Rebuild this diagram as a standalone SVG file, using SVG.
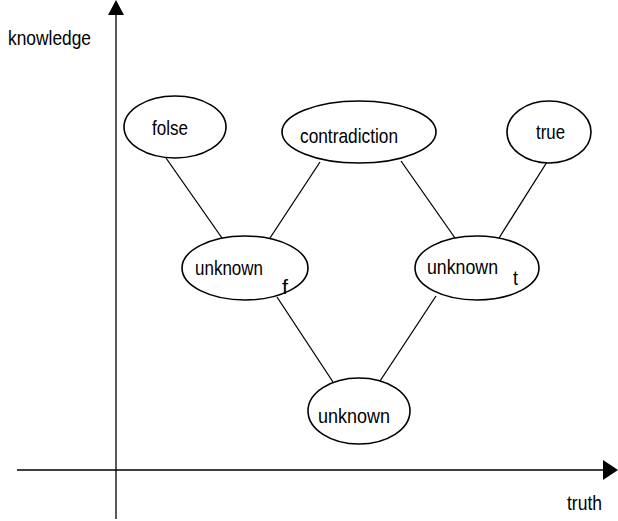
<svg xmlns="http://www.w3.org/2000/svg" width="618" height="521" viewBox="0 0 618 521">
<style>
.n{fill:#fff;stroke:#000;stroke-width:1.6}
.c{stroke:#000;stroke-width:1.3;fill:none}
text{font-family:"Liberation Sans",Arial,sans-serif;font-size:21px;fill:#000}
</style>
<rect width="618" height="521" fill="#fff"/>
<g id="axes">
<line class="c" x1="116" y1="519" x2="116" y2="14" stroke-width="1.6"/>
<polygon points="116,0 108,15 124,15" fill="#000"/>
<line class="c" x1="17" y1="470" x2="604" y2="470" stroke-width="1.6"/>
<polygon points="618,470 603,460 603,480" fill="#000"/>
<text x="8" y="45" textLength="83" lengthAdjust="spacingAndGlyphs">knowledge</text>
<text x="567" y="510" textLength="35" lengthAdjust="spacingAndGlyphs">truth</text>
</g>
<g id="connectors">
<line class="c" x1="166" y1="158" x2="222" y2="238"/>
<line class="c" x1="320" y1="162" x2="270" y2="238"/>
<line class="c" x1="401" y1="161" x2="455" y2="238"/>
<line class="c" x1="547" y1="162" x2="499" y2="238"/>
<line class="c" x1="277" y1="297" x2="333" y2="382"/>
<line class="c" x1="436" y1="296" x2="380" y2="381"/>
</g>
<g id="folse">
<ellipse class="n" cx="175" cy="127" rx="51" ry="31"/>
<text x="152" y="135" textLength="36" lengthAdjust="spacingAndGlyphs">folse</text>
</g>
<g id="contradiction">
<ellipse class="n" cx="359" cy="132" rx="77" ry="31"/>
<text x="300" y="143" textLength="98" lengthAdjust="spacingAndGlyphs">contradiction</text>
</g>
<g id="true">
<ellipse class="n" cx="549" cy="132" rx="42" ry="31"/>
<text x="536" y="139" textLength="29" lengthAdjust="spacingAndGlyphs">true</text>
</g>
<g id="unknown_f">
<ellipse class="n" cx="245" cy="268" rx="63" ry="32"/>
<text x="195" y="275" textLength="68" lengthAdjust="spacingAndGlyphs">unknown</text>
<text x="282" y="294" textLength="6" lengthAdjust="spacingAndGlyphs">f</text>
</g>
<g id="unknown_t">
<ellipse class="n" cx="477" cy="268" rx="62" ry="32"/>
<text x="427" y="274" textLength="71" lengthAdjust="spacingAndGlyphs">unknown</text>
<text x="513" y="285" textLength="5" lengthAdjust="spacingAndGlyphs">t</text>
</g>
<g id="unknown">
<ellipse class="n" cx="359" cy="411" rx="51" ry="33"/>
<text x="318" y="423" textLength="72" lengthAdjust="spacingAndGlyphs">unknown</text>
</g>
</svg>
